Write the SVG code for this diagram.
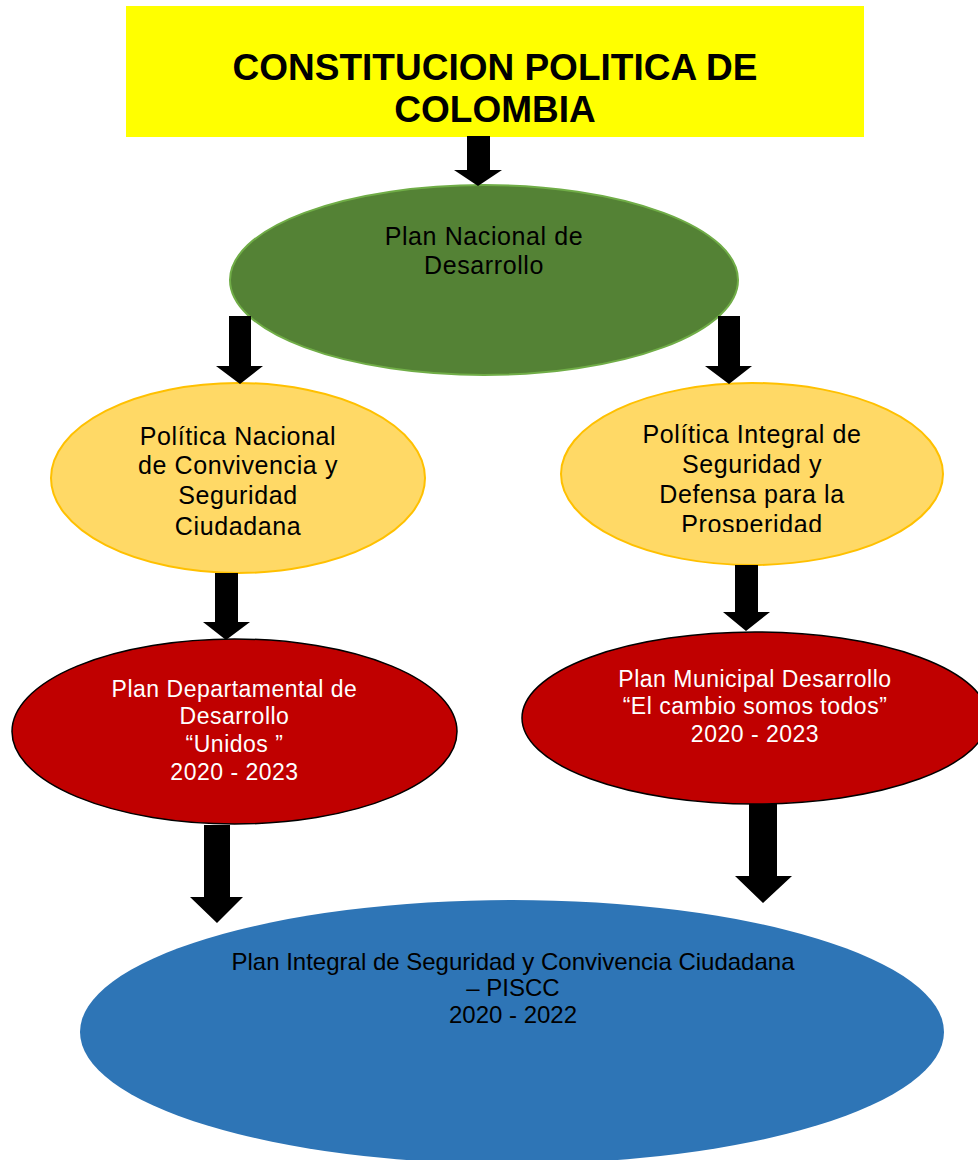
<svg xmlns="http://www.w3.org/2000/svg" width="978" height="1160" viewBox="0 0 978 1160">
<style>
.t{font-family:"Liberation Sans",Arial,sans-serif;text-anchor:middle}
.title{font-size:37px;font-weight:bold;fill:#000}
.g{font-size:25px;letter-spacing:0.6px;fill:#000}
.y{font-size:25px;letter-spacing:0.6px;fill:#000}
.r{font-size:23px;letter-spacing:0.5px;fill:#fff}
.b{font-size:24px;fill:#000}
.arrow{fill:#000}
</style>
<defs>
<clipPath id="clipR"><rect x="560" y="380" width="390" height="152"/></clipPath>
</defs>
<rect width="978" height="1160" fill="#fff"/>
<g id="constitucion">
<rect x="126" y="6" width="738" height="131" fill="#FFFF00"/>
<text class="t title" x="495" y="80">CONSTITUCION POLITICA DE</text>
<text class="t title" x="495" y="122">COLOMBIA</text>
</g>
<g id="plan-nacional">
<ellipse cx="484" cy="280" rx="254" ry="95" fill="#548235" stroke="#70AD47" stroke-width="2"/>
<text class="t g" x="484" y="245">Plan Nacional de</text>
<text class="t g" x="484" y="274">Desarrollo</text>
</g>
<g id="politica-convivencia">
<ellipse cx="238" cy="478" rx="187" ry="95" fill="#FFD966" stroke="#FFC000" stroke-width="2"/>
<text class="t y" x="238" y="445">Política Nacional</text>
<text class="t y" x="238" y="474">de Convivencia y</text>
<text class="t y" x="238" y="504">Seguridad</text>
<text class="t y" x="238" y="535">Ciudadana</text>
</g>
<g id="politica-defensa">
<ellipse cx="752" cy="474" rx="191" ry="91" fill="#FFD966" stroke="#FFC000" stroke-width="2"/>
<g clip-path="url(#clipR)">
<text class="t y" x="752" y="443">Política Integral de</text>
<text class="t y" x="752" y="473">Seguridad y</text>
<text class="t y" x="752" y="503">Defensa para la</text>
<text class="t y" x="752" y="533">Prosperidad</text>
</g>
</g>
<g id="plan-departamental">
<ellipse cx="234.5" cy="731.5" rx="222.5" ry="92.5" fill="#C00000" stroke="#000" stroke-width="1.5"/>
<text class="t r" x="234.5" y="697">Plan Departamental de</text>
<text class="t r" x="234.5" y="724">Desarrollo</text>
<text class="t r" x="234.5" y="752">“Unidos ”</text>
<text class="t r" x="234.5" y="780">2020 - 2023</text>
</g>
<g id="plan-municipal">
<ellipse cx="755" cy="718" rx="233" ry="86" fill="#C00000" stroke="#000" stroke-width="1.5"/>
<text class="t r" x="755" y="687">Plan Municipal Desarrollo</text>
<text class="t r" x="755" y="714">“El cambio somos todos”</text>
<text class="t r" x="755" y="742">2020 - 2023</text>
</g>
<g id="piscc">
<ellipse cx="512" cy="1032" rx="432" ry="132" fill="#2E75B6"/>
<text class="t b" x="513" y="970">Plan Integral de Seguridad y Convivencia Ciudadana</text>
<text class="t b" x="513" y="996">– PISCC</text>
<text class="t b" x="513" y="1023">2020 - 2022</text>
</g>
<g id="connectors">
<polygon class="arrow" points="467,136 490,136 490,170 502,170 478,186 454,170 467,170"/>
<polygon class="arrow" points="229,316 251,316 251,366 263,366 240,384 216,366 229,366"/>
<polygon class="arrow" points="718,316 740,316 740,366 752,366 729,384 705,366 718,366"/>
<polygon class="arrow" points="215,573 238,573 238,622 250,622 226,640 203,622 215,622"/>
<polygon class="arrow" points="735,565 758,565 758,612 770,612 746,631 723,612 735,612"/>
<polygon class="arrow" points="204,825 230,825 230,897 243,897 217,923 190,897 204,897"/>
<polygon class="arrow" points="749,804 777,804 777,876 792,876 763,903 735,876 749,876"/>
</g>
</svg>
